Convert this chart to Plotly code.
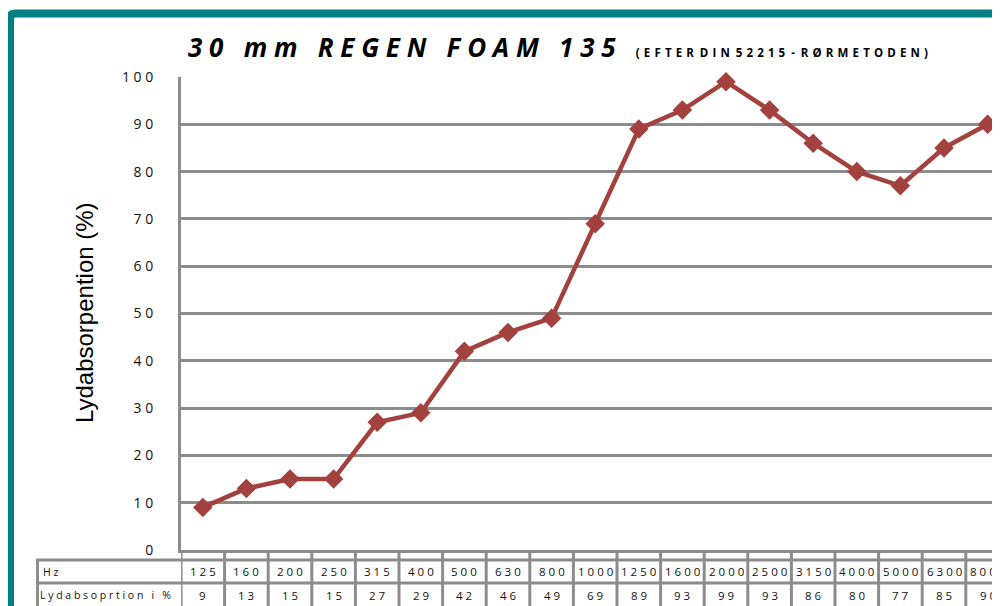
import plotly.graph_objects as go

# ---- data ----
frequencies = ["125", "160", "200", "250", "315", "400", "500", "630", "800", "1000",
               "1250", "1600", "2000", "2500", "3150", "4000", "5000", "6300", "8000"]
absorption = [9, 13, 15, 15, 27, 29, 42, 46, 49, 69, 89, 93, 99, 93, 86, 80, 77, 85, 90]
y_ticks = [0, 10, 20, 30, 40, 50, 60, 70, 80, 90, 100]
row_labels = ["Hz", "Lydabsoprtion i %"]

# page is rendered with an 8px body margin -> compensate
OFF = 8
W, H = 1000 - OFF, 606 - OFF
L = 181 - OFF
T = 77 - OFF
B = H - (550 - OFF)
R = 0
PW, PH = W - L - R, H - T - B
COL = 43.6  # pixel width of one category


def spaced(s, sep=" "):
    return sep.join(list(s))


def xp(px):  # page pixel -> paper x
    return (px - OFF - L) / PW


def yp(py):  # page pixel -> paper y
    return (H - B - (py - OFF)) / PH


line_color = "#A3413E"
grid_color = "#8C8C8C"
teal = "#008080"

x_idx = list(range(len(frequencies)))

fig = go.Figure()
fig.add_trace(go.Scatter(
    x=x_idx, y=absorption, mode="lines+markers",
    line=dict(color=line_color, width=4.5),
    marker=dict(symbol="diamond", size=15, color=line_color),
    cliponaxis=False, showlegend=False,
))

shapes = []
annotations = []

# teal frame
shapes.append(dict(type="path", xref="paper", yref="paper",
                   path=f"M {xp(10)},{yp(620)} L {xp(10)},{yp(19)} Q {xp(10)},{yp(13.5)} {xp(15.5)},{yp(13.5)} L {xp(1010)},{yp(13.5)}",
                   line=dict(color=teal, width=8), layer="above"))

# table grid: vertical lines at category boundaries
for i in range(len(frequencies) + 1):
    shapes.append(dict(type="line", xref="x", yref="paper",
                       x0=i - 0.5, x1=i - 0.5, y0=yp(550), y1=yp(620),
                       line=dict(color=grid_color, width=3)))
# table left border and horizontal lines
shapes.append(dict(type="line", xref="paper", yref="paper",
                   x0=xp(37.5), x1=xp(37.5), y0=yp(559), y1=yp(620),
                   line=dict(color=grid_color, width=3)))
for py in (560, 583):
    shapes.append(dict(type="line", xref="paper", yref="paper",
                       x0=xp(36), x1=xp(1010), y0=yp(py), y1=yp(py),
                       line=dict(color=grid_color, width=3)))

table_font = dict(family="Open Sans", size=11.5, color="#111111")
head_font = dict(family="Open Sans", size=10.5, color="#111111")
for i, (f, v) in enumerate(zip(frequencies, absorption)):
    annotations.append(dict(x=i, y=yp(571.5), xref="x", yref="paper", text=spaced(f),
                            showarrow=False, xanchor="center", yanchor="middle", font=table_font))
    annotations.append(dict(x=i, y=yp(595), xref="x", yref="paper", text=spaced(str(v)),
                            showarrow=False, xanchor="center", yanchor="middle", font=table_font))
annotations.append(dict(x=xp(41), y=yp(571.5), xref="paper", yref="paper", text=spaced(row_labels[0]),
                        showarrow=False, xanchor="left", yanchor="middle", font=head_font))
annotations.append(dict(x=xp(38), y=yp(595), xref="paper", yref="paper", text=spaced(row_labels[1]),
                        showarrow=False, xanchor="left", yanchor="middle", font=head_font))

# title
title_main = "   ".join(spaced(w) for w in ["30", "mm", "REGEN", "FOAM", "135"])
title_sub = " \u00a0".join(spaced(w, " \u200a") for w in ["(EFTER", "DIN", "52215", "-", "RØRMETODEN)"])
annotations.append(dict(
    x=xp(186), y=yp(47), xref="paper", yref="paper", xanchor="left", yanchor="middle",
    text=f"<b><i>{title_main}</i></b>\u00a0\u00a0\u00a0<b><span style='font-size:11.5px'>{title_sub}</span></b>",
    showarrow=False, font=dict(family="Open Sans", size=26, color="#000000")))

# y axis title
annotations.append(dict(x=xp(84), y=yp(313), xref="paper", yref="paper", text="Lydabsorpention (%)",
                        textangle=-90, showarrow=False, xanchor="center", yanchor="middle",
                        font=dict(family="Liberation Sans", size=24, color="#000000")))

fig.update_layout(
    width=W, height=H,
    margin=dict(l=L, r=R, t=T, b=B, autoexpand=False),
    paper_bgcolor="white", plot_bgcolor="white",
    shapes=shapes, annotations=annotations,
    xaxis=dict(range=[-0.5, -0.5 + PW / COL], showgrid=False, zeroline=False,
               showticklabels=False, ticks="", showline=True, linecolor=grid_color, linewidth=3,
               fixedrange=True),
    yaxis=dict(range=[0, 100], tickvals=y_ticks, ticktext=[spaced(str(t)) for t in y_ticks],
               showgrid=True, gridcolor=grid_color, gridwidth=2.5, zeroline=False,
               showline=True, linecolor=grid_color, linewidth=3, ticks="",
               ticklabelstandoff=22,
               tickfont=dict(family="Open Sans", size=14, color="#111111"), fixedrange=True),
)

fig.write_html("out.html")
